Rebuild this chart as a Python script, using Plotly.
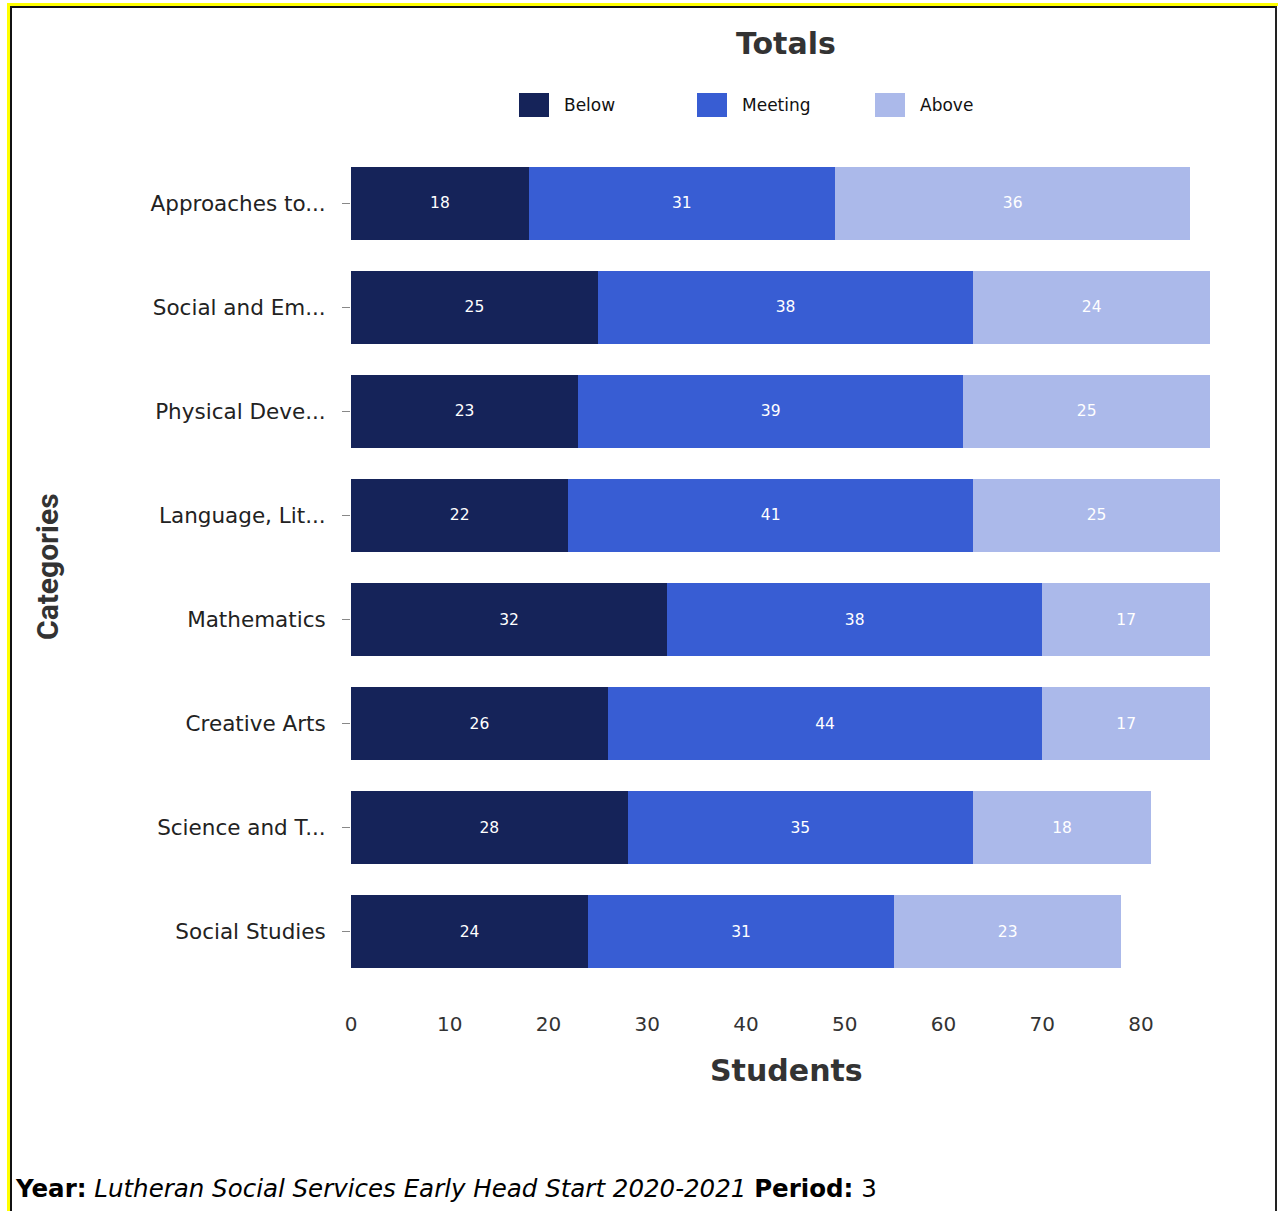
import plotly.graph_objects as go

# ---- data ----
categories = [
    "Approaches to...",
    "Social and Em...",
    "Physical Deve...",
    "Language, Lit...",
    "Mathematics",
    "Creative Arts",
    "Science and T...",
    "Social Studies",
]
below = [18, 25, 23, 22, 32, 26, 28, 24]
meeting = [31, 38, 39, 41, 38, 44, 35, 31]
above = [36, 24, 25, 25, 17, 17, 18, 23]
series_names = ["Below", "Meeting", "Above"]
series_colors = ["#152359", "#385dd3", "#abb9ea"]
x_ticks = [0, 10, 20, 30, 40, 50, 60, 70, 80]

# ---- page geometry (pixels) ----
W, H = 1278, 1211
PL, PR = 351, 1226      # plot area left / right
PT, PB = 151, 984       # plot area top / bottom

WIDE = "DejaVu Sans"


def px(x):
    return (x - PL) / (PR - PL)


def py(y):
    return (PB - y) / (PB - PT)


fig = go.Figure()
for name, vals, col in zip(series_names, [below, meeting, above], series_colors):
    fig.add_trace(go.Bar(
        y=categories, x=vals, name=name, orientation="h",
        marker=dict(color=col, line=dict(width=0)),
        text=[str(v) for v in vals], textposition="inside",
        insidetextanchor="middle", textangle=0,
        textfont=dict(color="white", size=15.5, family=WIDE),
        showlegend=False,
    ))

shapes = []
annotations = []

# legend drawn by hand: wide swatches with labels
legend_x = [519, 697, 875]
for lx, name, col in zip(legend_x, series_names, series_colors):
    shapes.append(dict(type="rect", xref="paper", yref="paper",
                       x0=px(lx), x1=px(lx + 30), y0=py(117), y1=py(93),
                       fillcolor=col, line=dict(width=0)))
    annotations.append(dict(xref="paper", yref="paper", x=px(lx + 43), y=py(105),
                            xanchor="left", yanchor="middle", showarrow=False,
                            text=name,
                            font=dict(family=WIDE, size=17, color="#111")))

# titles
annotations.append(dict(xref="paper", yref="paper", x=px(786), y=py(44),
                        xanchor="center", yanchor="middle", showarrow=False,
                        text="<b>Totals</b>",
                        font=dict(family=WIDE, size=30, color="#333")))
annotations.append(dict(xref="paper", yref="paper", x=px(786), y=py(1070),
                        xanchor="center", yanchor="middle", showarrow=False,
                        text="<b>Students</b>",
                        font=dict(family=WIDE, size=30, color="#333")))
annotations.append(dict(xref="paper", yref="paper", x=px(47), y=py(567),
                        xanchor="center", yanchor="middle", showarrow=False,
                        text="<b>Categories</b>", textangle=-90,
                        font=dict(family="Roboto", size=30, color="#333")))

# footer
annotations.append(dict(xref="paper", yref="paper", x=px(13), y=py(1188),
                        xanchor="left", yanchor="middle", showarrow=False,
                        text="<b>Year:</b> <i>Lutheran Social Services Early Head Start 2020-2021</i> <b>Period:</b> 3",
                        font=dict(family=WIDE, size=24.5, color="#000")))

# frame around the page
frame = [
    ("#ffff00", 7, 3, W, 6),
    ("#ffff00", 7, 3, 10, H),
    ("#111111", 10, 6, 1277, 8),
    ("#111111", 10, 6, 12, H),
    ("#222222", 1275, 6, 1277, H),
]
for col, x0, y0, x1, y1 in frame:
    shapes.append(dict(type="rect", xref="paper", yref="paper",
                       x0=px(x0), x1=px(x1), y0=py(y1), y1=py(y0),
                       fillcolor=col, line=dict(width=0), layer="above"))

fig.update_layout(
    width=W, height=H,
    margin=dict(l=PL, r=W - PR, t=PT, b=H - PB, pad=0),
    barmode="stack", bargap=0.30,
    plot_bgcolor="white", paper_bgcolor="white",
    showlegend=False,
    xaxis=dict(range=[0, (PR - PL) / 9.875], tickvals=x_ticks,
               showgrid=False, zeroline=False, showline=False, ticks="",
               ticklabelstandoff=26,
               tickfont=dict(family=WIDE, size=20, color="#333")),
    yaxis=dict(categoryorder="array", categoryarray=categories[::-1],
               showgrid=False, zeroline=False, showline=False,
               ticks="outside", ticklen=8, tickcolor="#888", tickwidth=1,
               ticklabelstandoff=12,
               tickfont=dict(family=WIDE, size=21.5, color="#222")),
    shapes=shapes, annotations=annotations,
)

fig.write_html("out.html")
